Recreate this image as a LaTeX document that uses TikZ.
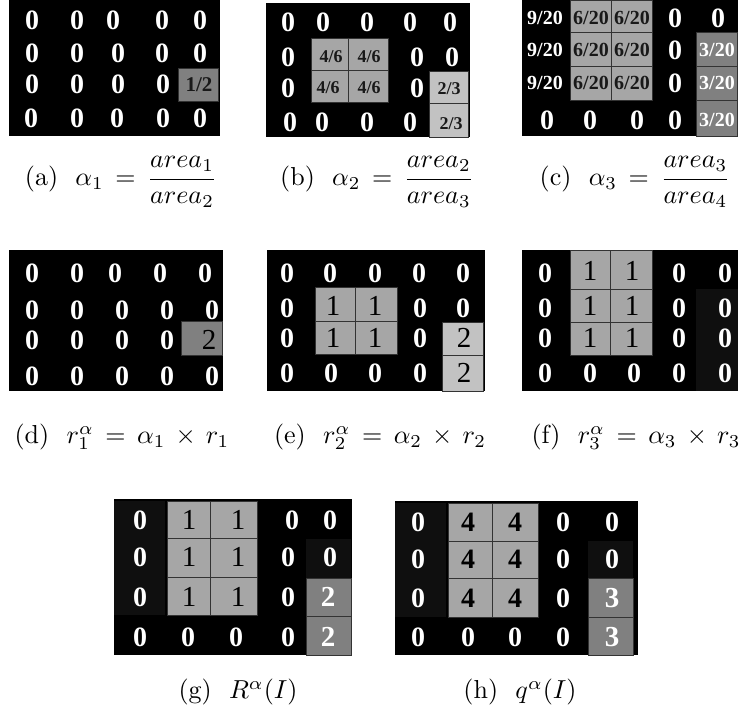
\documentclass[tikz,border=0pt]{standalone}
\usepackage{amsmath}
\usepackage{fontspec}
\usepackage{graphicx}
\newfontfamily\tnr{Liberation Serif}
\definecolor{gA}{gray}{0.65}
\definecolor{gB}{gray}{0.76}
\definecolor{gC}{gray}{0.5}
\definecolor{gD}{gray}{0.06}
\definecolor{txd}{gray}{0.1}
\newcommand{\capt}[1]{\scalebox{2.6}{#1}}
\tikzset{
  zer/.style={text=white,font=\tnr\bfseries\fontsize{28}{28}\selectfont,inner sep=0pt},
  fw/.style={text=white,font=\tnr\bfseries\fontsize{20}{20}\selectfont,inner sep=0pt},
  fb/.style={text=txd,font=\tnr\bfseries\fontsize{20}{20}\selectfont,inner sep=0pt},
  fs/.style={text=txd,font=\tnr\bfseries\fontsize{18}{18}\selectfont,inner sep=0pt},
  onen/.style={text=black,font=\tnr\fontsize{29}{29}\selectfont,inner sep=0pt},
  fourn/.style={text=black,font=\tnr\bfseries\fontsize{28}{28}\selectfont,inner sep=0pt},
  bwn/.style={text=white,font=\tnr\bfseries\fontsize{29}{29}\selectfont,inner sep=0pt},
  cellA/.style={fill=gA,draw=black!80,line width=0.6pt},
  cellB/.style={fill=gB,draw=black!80,line width=0.6pt},
  cellC/.style={fill=gC,draw=black!80,line width=0.6pt},
  cellD/.style={fill=gD},
  panelbg/.style={fill=black},
  capn/.style={inner sep=0pt}
}
\begin{document}
\begin{tikzpicture}[x=1pt,y=-1pt]
\useasboundingbox[fill=white] (0,0) rectangle (747,722);

% ---------- (a) ----------
\fill[panelbg] (9,0) rectangle (220,136);
\filldraw[cellC] (178,68) rectangle (218,101);
\foreach \n/\x/\y in {a11/32/20,a12/77/20,a13/113/20,a14/162/20,a15/200/20,
  a21/32/53,a22/77/53,a23/118/53,a24/162/53,a25/200/53,
  a31/32/84,a32/77/84,a33/118/84,a34/163/84,
  a41/31/118,a42/77/118,a43/117/118,a44/163/118,a45/200/118}
  \node[zer] (\n) at (\x,\y) {0};
\node[fb,font=\tnr\bfseries\fontsize{21}{21}\selectfont] (a35) at (199,85) {1/2};

% ---------- (b) ----------
\fill[panelbg] (266,3) rectangle (470,137);
\filldraw[cellA] (311,38) rectangle (348,70);
\filldraw[cellA] (348,38) rectangle (388,70);
\filldraw[cellA] (311,70) rectangle (348,102);
\filldraw[cellA] (348,70) rectangle (388,102);
\filldraw[cellB] (429,71) rectangle (468,103);
\filldraw[cellB] (429,103) rectangle (468,137);
\foreach \n/\x/\y in {b11/288/22,b12/323/22,b13/367/22,b14/410/22,b15/450/22,
  b21/288/57,b24/417/57,b25/452/57,
  b31/288/88,b34/417/88,
  b41/290/122,b42/322/122,b43/367/122,b44/410/122}
  \node[zer] (\n) at (\x,\y) {0};
\foreach \n/\x/\y in {b22/331/57,b23/369/57,b32/328/88,b33/369/88}
  \node[fs] (\n) at (\x,\y) {4/6};
\node[fs] (b35) at (449,89) {2/3};
\node[fs] (b45) at (451,124) {2/3};

% ---------- (c) ----------
\fill[panelbg] (522,0) rectangle (738,136);
\foreach \y/\yy in {0/32,32/66,66/100}{
  \filldraw[cellA] (570,\y) rectangle (611,\yy);
  \filldraw[cellA] (611,\y) rectangle (652,\yy);
}
\foreach \y/\yy in {32/66,66/100,100/136}
  \filldraw[cellC] (696,\y) rectangle (737,\yy);
\foreach \n/\y in {c11/18,c21/50,c31/83}
  \node[fw] (\n) at (545,\y) {9/20};
\foreach \n/\x/\y in {c12/591/18,c13/632/18,c22/591/50,c23/632/50,c32/591/83,c33/632/83}
  \node[fb] (\n) at (\x,\y) {6/20};
\foreach \n/\y in {c25/50,c35/83,c45/120}
  \node[fw] (\n) at (717,\y) {3/20};
\foreach \n/\x/\y in {c14/675/18,c15/718/18,c24/675/50,c34/675/83,
  c41/547/120,c42/590/120,c43/637/120,c44/675/120}
  \node[zer] (\n) at (\x,\y) {0};

% ---------- (d) ----------
\fill[panelbg] (9,250) rectangle (223,391);
\filldraw[cellC] (181,321) rectangle (222,355);
\foreach \n/\x/\y in {d11/32/273,d12/77/273,d13/115/273,d14/160/273,d15/205/273,
  d21/32/310,d22/77/310,d23/122/310,d24/167/310,d25/212/310,
  d31/32/340,d32/77/340,d33/122/340,d34/167/340,
  d41/32/376,d42/77/376,d43/122/376,d44/167/376,d45/212/376}
  \node[zer] (\n) at (\x,\y) {0};
\node[onen] (d35) at (209,340) {2};

% ---------- (e) ----------
\fill[panelbg] (267,250) rectangle (485,391);
\filldraw[cellA] (315,287) rectangle (355,321);
\filldraw[cellA] (355,287) rectangle (397,321);
\filldraw[cellA] (315,321) rectangle (355,354);
\filldraw[cellA] (355,321) rectangle (397,354);
\filldraw[cellB] (442,322) rectangle (483,355);
\filldraw[cellB] (442,355) rectangle (483,391);
\foreach \n/\x/\y in {e11/287/273,e12/330/273,e13/375/273,e14/419/273,e15/463/273,
  e21/287/308,e24/420/308,e25/463/308,
  e31/287/338,e34/420/338,
  e41/287/373,e42/331/373,e43/375/373,e44/420/373}
  \node[zer] (\n) at (\x,\y) {0};
\foreach \n/\x/\y in {e22/333/306,e23/375/306,e32/333/338,e33/375/338}
  \node[onen] (\n) at (\x,\y) {1};
\node[onen] (e35) at (464,338) {2};
\node[onen] (e45) at (464,373) {2};

% ---------- (f) ----------
\fill[panelbg] (522,250) rectangle (738,391);
\fill[cellD] (696,289) rectangle (738,391);
\foreach \y/\yy in {250/289,289/322,322/355}{
  \filldraw[cellA] (570,\y) rectangle (610,\yy);
  \filldraw[cellA] (610,\y) rectangle (652,\yy);
}
\foreach \n/\x/\y in {f11/545/273,f14/679/273,f15/725/273,
  f21/545/308,f24/679/308,f25/725/308,
  f31/545/338,f34/679/338,f35/725/338,
  f41/545/373,f42/590/373,f43/634/373,f44/679/373,f45/725/373}
  \node[zer] (\n) at (\x,\y) {0};
\foreach \n/\x/\y in {f12/590/271,f13/632/271,f22/590/306,f23/632/306,f32/590/338,f33/632/338}
  \node[onen] (\n) at (\x,\y) {1};

% ---------- (g) ----------
\fill[panelbg] (114,499) rectangle (352,655);
\fill[cellD] (114,501) rectangle (165,615);
\fill[cellD] (306,539) rectangle (351,578);
\foreach \y/\yy in {501/538,538/577,577/615}{
  \filldraw[cellA] (167,\y) rectangle (210,\yy);
  \filldraw[cellA] (210,\y) rectangle (257,\yy);
}
\filldraw[cellC] (306,578) rectangle (351,616);
\filldraw[cellC] (306,616) rectangle (351,655);
\foreach \n/\x/\y in {g11/140/520,g14/292/520,g15/330/520,
  g21/140/557,g24/288/557,g25/330/557,
  g31/140/597,g34/288/597,
  g41/140/637,g42/188/637,g43/236/637,g44/288/637}
  \node[zer] (\n) at (\x,\y) {0};
\foreach \n/\x/\y in {g12/189/520,g13/238/520,g22/189/557,g23/238/557,g32/189/597,g33/238/597}
  \node[onen] (\n) at (\x,\y) {1};
\node[bwn] (g35) at (328,597) {2};
\node[bwn] (g45) at (328,637) {2};

% ---------- (h) ----------
\fill[panelbg] (395,501) rectangle (638,655);
\fill[cellD] (395,503) rectangle (446,617);
\fill[cellD] (588,541) rectangle (633,578);
\foreach \y/\yy in {503/541,541/578,578/617}{
  \filldraw[cellA] (448,\y) rectangle (492,\yy);
  \filldraw[cellA] (492,\y) rectangle (538,\yy);
}
\filldraw[cellC] (588,578) rectangle (633,617);
\filldraw[cellC] (588,617) rectangle (633,655);
\foreach \n/\x/\y in {h11/418/522,h14/563/522,h15/612/522,
  h21/418/559,h24/563/559,h25/612/559,
  h31/418/598,h34/563/598,
  h41/418/637,h42/468/637,h43/515/637,h44/563/637}
  \node[zer] (\n) at (\x,\y) {0};
\foreach \n/\x/\y in {h12/468/522,h13/515/522,h22/468/559,h23/515/559,h32/468/598,h33/515/598}
  \node[fourn] (\n) at (\x,\y) {4};
\node[bwn] (h35) at (612,598) {3};
\node[bwn] (h45) at (612,637) {3};

% ---------- captions ----------
\node[capn] (capa) at (121,182) {\capt{(a)\ \ $\alpha_1\,=\,\dfrac{area_1}{area_2}$}};
\node[capn] (capb) at (377,182) {\capt{(b)\ \ $\alpha_2\,=\,\dfrac{area_2}{area_3}$}};
\node[capn] (capc) at (635,182) {\capt{(c)\ \ $\alpha_3\,=\,\dfrac{area_3}{area_4}$}};
\node[capn] (capd) at (122,437) {\capt{(d)\ \ $r_1^\alpha\,=\,\alpha_1\,\times\,r_1$}};
\node[capn] (cape) at (380,437) {\capt{(e)\ \ $r_2^\alpha\,=\,\alpha_2\,\times\,r_2$}};
\node[capn] (capf) at (636,437) {\capt{(f)\ \ $r_3^\alpha\,=\,\alpha_3\,\times\,r_3$}};
\node[capn] (capg) at (238,692) {\capt{(g)\ \ $R^\alpha(I)$}};
\node[capn] (caph) at (520,692) {\capt{(h)\ \ $q^\alpha(I)$}};
\end{tikzpicture}
\end{document}
